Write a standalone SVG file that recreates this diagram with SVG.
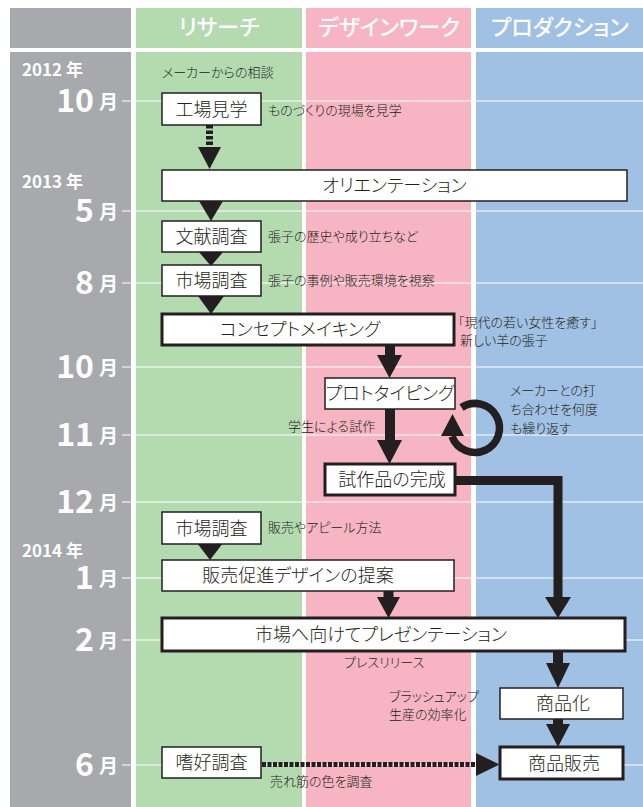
<svg xmlns="http://www.w3.org/2000/svg" width="643" height="807" viewBox="0 0 643 807">
<style>
text{font-family:"Noto Sans CJK JP","Noto Sans",sans-serif;font-feature-settings:"palt";}
.hd{fill:#fff;font-size:22px;font-weight:500;text-anchor:middle;}
.num{fill:#fff;font-size:32px;font-weight:bold;text-anchor:end;}
.mo{fill:#fff;font-size:19px;font-weight:bold;}
.yr{fill:#fff;font-size:17px;font-weight:bold;}
.grid{stroke:#fff;stroke-width:1.2;}
.n rect{fill:#fff;stroke:#231f20;stroke-width:1.5;}
.n.t rect{stroke-width:3;}
.n text{fill:#231f20;font-size:18px;font-weight:300;text-anchor:middle;}
.s{fill:#231f20;font-size:13px;font-weight:300;}
.c{fill:#231f20;}
.c line,.c path{stroke:#231f20;fill:none;}
</style>
<rect width="643" height="807" fill="#fff"/>
<g id="columns">
<rect x="10" y="8" width="121" height="40" fill="#a7a9ac"/>
<rect x="136" y="8" width="166" height="40" fill="#b4dab0"/>
<rect x="306" y="8" width="165" height="40" fill="#f7b4c2"/>
<rect x="476" y="8" width="167" height="40" fill="#a1c1e4"/>
<rect x="10" y="52" width="121" height="755" fill="#a7a9ac"/>
<rect x="136" y="52" width="166" height="755" fill="#b4dab0"/>
<rect x="306" y="52" width="165" height="755" fill="#f7b4c2"/>
<rect x="476" y="52" width="167" height="755" fill="#a1c1e4"/>
<text class="hd" x="219" y="35">リサーチ</text>
<text class="hd" x="389" y="35">デザインワーク</text>
<text class="hd" x="560" y="35">プロダクション</text>
</g>
<g id="timeline">
<line class="grid" x1="122" y1="101" x2="643" y2="101"/>
<line class="grid" x1="122" y1="211" x2="643" y2="211"/>
<line class="grid" x1="122" y1="283" x2="643" y2="283"/>
<line class="grid" x1="122" y1="367" x2="643" y2="367"/>
<line class="grid" x1="122" y1="435" x2="643" y2="435"/>
<line class="grid" x1="122" y1="502" x2="643" y2="502"/>
<line class="grid" x1="122" y1="578" x2="643" y2="578"/>
<line class="grid" x1="122" y1="640" x2="643" y2="640"/>
<line class="grid" x1="122" y1="765" x2="643" y2="765"/>
<text class="yr" x="22" y="76">2012 年</text>
<text class="yr" x="22" y="188">2013 年</text>
<text class="yr" x="22" y="557">2014 年</text>
<text class="num" x="94" y="112">10</text><text class="mo" x="99" y="109">月</text>
<text class="num" x="94" y="222">5</text><text class="mo" x="99" y="219">月</text>
<text class="num" x="94" y="294">8</text><text class="mo" x="99" y="291">月</text>
<text class="num" x="94" y="378">10</text><text class="mo" x="99" y="375">月</text>
<text class="num" x="94" y="446">11</text><text class="mo" x="99" y="443">月</text>
<text class="num" x="94" y="513">12</text><text class="mo" x="99" y="510">月</text>
<text class="num" x="94" y="589">1</text><text class="mo" x="99" y="586">月</text>
<text class="num" x="94" y="651">2</text><text class="mo" x="99" y="648">月</text>
<text class="num" x="94" y="776">6</text><text class="mo" x="99" y="773">月</text>
</g>
<g id="connectors" class="c">
<line x1="209.5" y1="125" x2="209.5" y2="148" stroke-width="7" stroke-dasharray="3.5 2"/>
<polygon points="198,147 221,147 209.5,169"/>
<polygon points="199,201 223,201 211,221"/>
<polygon points="198,251 224,251 211,266"/>
<polygon points="198,296 224,296 211,314"/>
<line x1="390" y1="345" x2="390" y2="357" stroke-width="10"/>
<polygon points="377,355 402,355 389.5,378"/>
<line x1="390" y1="409" x2="390" y2="442" stroke-width="10"/>
<polygon points="377,440 402,440 389.5,464"/>
<path d="M461.5 407.5 A24.5 24.5 0 1 1 452 436.4" stroke-width="7.5"/>
<polygon points="441,436 464,436 452.5,414"/>
<path d="M455 480.5 H558 V598" stroke-width="9"/>
<polygon points="545,597 571,597 558,618"/>
<polygon points="197,543 223,543 210,560"/>
<line x1="388.5" y1="591" x2="388.5" y2="598" stroke-width="10"/>
<polygon points="377,597 400,597 388.5,618"/>
<line x1="558" y1="652" x2="558" y2="664" stroke-width="10"/>
<polygon points="546,663 570,663 558,688"/>
<line x1="558" y1="719" x2="558" y2="725" stroke-width="10"/>
<polygon points="546,724 570,724 558,747"/>
<line x1="262" y1="764.5" x2="477" y2="764.5" stroke-width="5" stroke-dasharray="4 1.5"/>
<polygon points="476,753 476,776 499.5,764.5"/>
</g>
<g id="n1" class="n"><rect x="162" y="93" width="99" height="32"/><text x="211.5" y="115.5">工場見学</text></g>
<g id="n2" class="n"><rect x="162" y="170" width="465" height="31"/><text x="394.5" y="192">オリエンテーション</text></g>
<g id="n3" class="n"><rect x="162" y="221" width="99" height="31"/><text x="211.5" y="243">文献調査</text></g>
<g id="n4" class="n"><rect x="162" y="265" width="99" height="31"/><text x="211.5" y="287">市場調査</text></g>
<g id="n5" class="n t"><rect x="162" y="314" width="292" height="31"/><text x="300" y="336">コンセプトメイキング</text></g>
<g id="n6" class="n"><rect x="325" y="378" width="130" height="31"/><text x="390" y="400">プロトタイピング</text></g>
<g id="n7" class="n t"><rect x="325" y="464" width="130" height="31"/><text x="392" y="486">試作品の完成</text></g>
<g id="n8" class="n"><rect x="162" y="512" width="99" height="32"/><text x="211.5" y="534.5">市場調査</text></g>
<g id="n9" class="n"><rect x="162" y="560" width="292" height="31"/><text x="298" y="582">販売促進デザインの提案</text></g>
<g id="n10" class="n t"><rect x="162" y="618" width="463" height="33"/><text x="381" y="641">市場へ向けてプレゼンテーション</text></g>
<g id="n11" class="n"><rect x="500" y="688" width="123" height="31"/><text x="563" y="710">商品化</text></g>
<g id="n12" class="n t"><rect x="500" y="747" width="123" height="32"/><text x="564" y="769.5">商品販売</text></g>
<g id="n13" class="n"><rect x="162" y="747" width="99" height="31"/><text x="211.5" y="769">嗜好調査</text></g>
<g id="notes">
<text class="s" x="162" y="77">メーカーからの相談</text>
<text class="s" x="268" y="115">ものづくりの現場を見学</text>
<text class="s" x="268" y="241">張子の歴史や成り立ちなど</text>
<text class="s" x="268" y="285">張子の事例や販売環境を視察</text>
<text class="s" x="458" y="327">「現代の若い女性を癒す」</text>
<text class="s" x="460" y="345">新しい羊の張子</text>
<text class="s" x="510" y="395">メーカーとの打</text>
<text class="s" x="510" y="414">ち合わせを何度</text>
<text class="s" x="510" y="433">も繰り返す</text>
<text class="s" x="288" y="431">学生による試作</text>
<text class="s" x="268" y="532">販売やアピール方法</text>
<text class="s" x="344" y="667">プレスリリース</text>
<text class="s" x="389" y="701">ブラッシュアップ</text>
<text class="s" x="389" y="719">生産の効率化</text>
<text class="s" x="270" y="786">売れ筋の色を調査</text>
</g>
</svg>
